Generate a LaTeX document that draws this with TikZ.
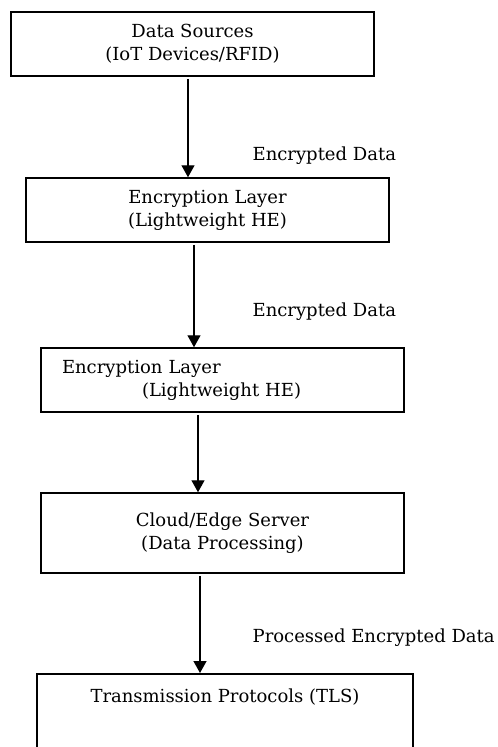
\documentclass[tikz,border=0pt]{standalone}
\usepackage{fontspec}
\setmainfont{DejaVu Serif}
\usetikzlibrary{arrows.meta}

\begin{document}
\begin{tikzpicture}
	[x=1pt, y=-1pt,
	font=\fontsize{18}{23}\selectfont,
	block/.style ={rectangle, draw=black, line width=1.5pt, align=center, minimum width=363pt, minimum height=64pt, inner sep=0pt},
	line/.style ={line width=1.3pt, -{Triangle[width=13pt,length=12pt]}, shorten <=2pt},
	flow/.style ={anchor=west, inner sep=0pt},
	]
	\clip (0,0) rectangle (498,747);

	\draw (192.5,44) node[block] (Sources) {Data Sources\\(IoT Devices/RFID)};
	\draw (207.5,210) node[block] (EncryptionA) {Encryption Layer\\(Lightweight HE)};
	\draw (222.5,380) node[block, align=left, text width=321pt, inner xsep=21pt] (EncryptionB) {Encryption Layer\\\hspace*{80pt}(Lightweight HE)};
	\draw (222.5,533) node[block, minimum height=80pt] (Server) {Cloud/Edge Server\\(Data Processing)};
	\draw (225,673) node[block, anchor=north, minimum width=376pt, text height=28.5pt, text depth=80pt] (TLS) {Transmission Protocols (TLS)};

	\path[line]
	([xshift=-4.5pt]Sources.south) edge node[flow, pos=0.79, xshift=64pt] {Encrypted Data} ([xshift=-4.5pt]Sources.south |- EncryptionA.north)
	([xshift=-13.5pt]EncryptionA.south) edge node[flow, pos=0.66, xshift=58pt] {Encrypted Data} ([xshift=-13.5pt]EncryptionA.south |- EncryptionB.north)
	([xshift=-24.5pt]EncryptionB.south) edge ([xshift=-24.5pt]EncryptionB.south |- Server.north)
	([xshift=-22.5pt]Server.south) edge node[flow, pos=0.64, xshift=52pt] {Processed Encrypted Data} ([xshift=-22.5pt]Server.south |- TLS.north);
\end{tikzpicture}
\end{document}
